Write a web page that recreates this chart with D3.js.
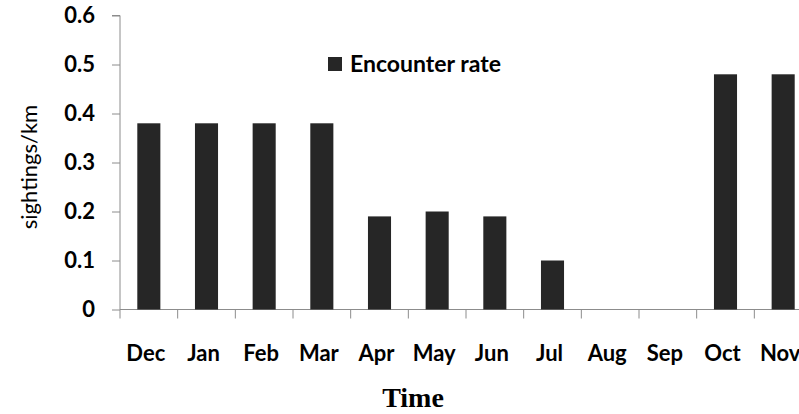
<!DOCTYPE html>
<html>
<head>
<meta charset="utf-8">
<script src="https://cdn.jsdelivr.net/npm/d3@7"></script>
<style>
  body { margin: 0; background: #fff; }
  .axis text { font-family: Lato, sans-serif; font-weight: bold; font-size: 22px; fill: #000; }
  .axis path, .axis line { stroke: #8c8c8c; }
</style>
</head>
<body>
<div id="chart"></div>
<script>
var months = ["Dec", "Jan", "Feb", "Mar", "Apr", "May", "Jun", "Jul", "Aug", "Sep", "Oct", "Nov"];
var encounterRate = [0.38, 0.38, 0.38, 0.38, 0.19, 0.2, 0.19, 0.1, 0, 0, 0.48, 0.48];
var yTicks = [0, 0.1, 0.2, 0.3, 0.4, 0.5, 0.6];

var outerWidth = 799,
    outerHeight = 414;

var svg = d3.select("#chart").append("svg")
    .attr("width", outerWidth)
    .attr("height", outerHeight);

var x = d3.scaleBand()
    .domain(months)
    .range([120, 812]);

var y = d3.scaleLinear()
    .domain([0, 0.6])
    .range([309.5, 15.5]);

// y axis
svg.append("g")
    .attr("class", "y axis")
    .attr("transform", "translate(120,0)")
    .call(d3.axisLeft(y).tickValues(yTicks).tickSize(8).tickPadding(17)
      .tickFormat(d => d === 0 ? "0" : d3.format(".1f")(d)))
    .call(g => g.select(".domain").attr("d", "M-8," + y(0.6) + "H0V" + y(0)));

// x axis: ticks between categories, pointing down
var xAxis = svg.append("g")
    .attr("class", "x axis")
    .attr("transform", "translate(0," + y(0) + ")");

xAxis.append("line")
    .attr("x1", 120).attr("x2", 799)
    .attr("y1", 0).attr("y2", 0);

xAxis.selectAll("line.tick")
    .data(months)
    .join("line")
      .attr("class", "tick")
      .attr("x1", d => x(d)).attr("x2", d => x(d))
      .attr("y1", 0).attr("y2", 9);

xAxis.selectAll("text")
    .data(months)
    .join("text")
      .attr("x", d => x(d) + x.bandwidth() / 2 - 3)
      .attr("y", 51)
      .attr("text-anchor", "middle")
      .text(d => d);

// bars
var barW = x.bandwidth() * 0.4;
svg.append("g")
  .selectAll("rect")
  .data(months)
  .join("rect")
    .attr("x", d => x(d) + (x.bandwidth() - barW) / 2)
    .attr("y", (d, i) => y(encounterRate[i]))
    .attr("width", barW)
    .attr("height", (d, i) => y(0) - y(encounterRate[i]))
    .attr("fill", "#262626");

// legend
svg.append("rect")
    .attr("x", 328).attr("y", 57)
    .attr("width", 14).attr("height", 14)
    .attr("fill", "#262626");

svg.append("text")
    .attr("x", 350).attr("y", 71.5)
    .attr("font-family", "Lato, sans-serif")
    .attr("font-weight", "bold")
    .attr("font-size", "23px")
    .text("Encounter rate");

// axis titles
svg.append("text")
    .attr("transform", "translate(37,167) rotate(-90)")
    .attr("text-anchor", "middle")
    .attr("font-family", "Lato, sans-serif")
    .attr("font-size", "22px")
    .text("sightings/km");

svg.append("text")
    .attr("x", 413).attr("y", 407)
    .attr("text-anchor", "middle")
    .attr("font-family", "Liberation Serif, serif")
    .attr("font-weight", "bold")
    .attr("font-size", "28px")
    .text("Time");
</script>
</body>
</html>
